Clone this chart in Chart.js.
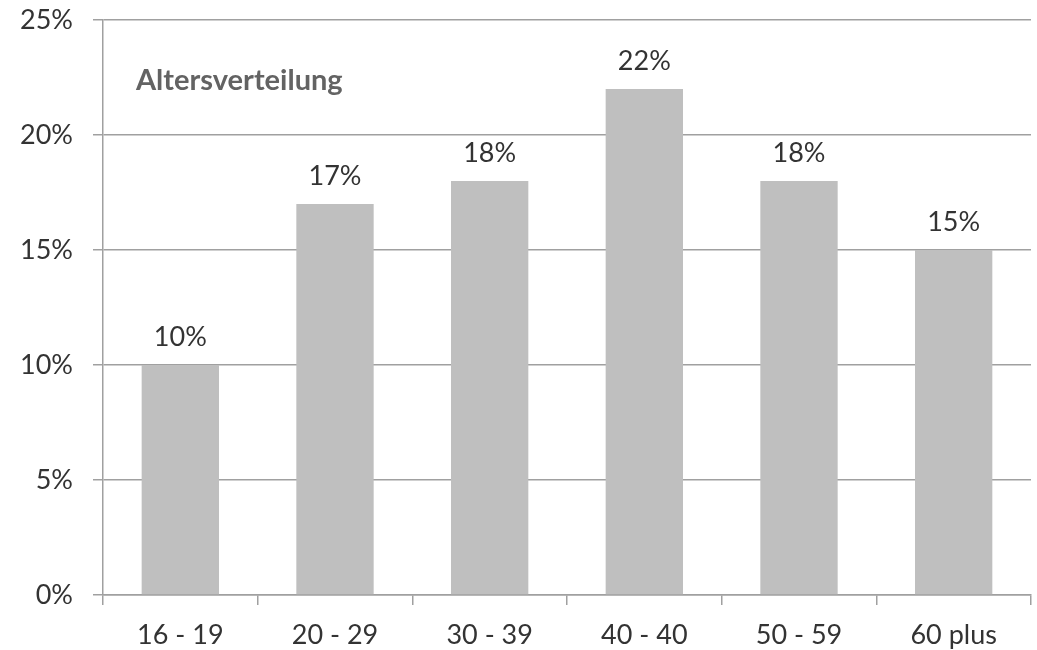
<!DOCTYPE html>
<html>
<head>
<meta charset="utf-8">
<script src="https://cdn.jsdelivr.net/npm/chart.js@4/dist/chart.umd.min.js"></script>
<style>
  html, body { margin: 0; padding: 0; background: #ffffff; }
  #wrap { width: 1037px; height: 650px; }
</style>
</head>
<body>
<div id="wrap"><canvas id="chart" width="1037" height="650"></canvas></div>
<script>
// Age groups and their share of respondents (percent)
const categories = ['16 - 19', '20 - 29', '30 - 39', '40 - 40', '50 - 59', '60 plus'];
const shares = [10, 17, 18, 22, 18, 15];
const yTicks = [0, 5, 10, 15, 20, 25];
const chartTitle = 'Altersverteilung';

const FONT = 'Lato, "Open Sans", sans-serif';

// Value labels above each bar, plus the title inside the plot area
const labelPlugin = {
  id: 'barLabels',
  afterDatasetsDraw(chart) {
    const ctx = chart.ctx;
    const meta = chart.getDatasetMeta(0);
    ctx.save();
    ctx.font = '27px ' + FONT;
    ctx.fillStyle = '#333333';
    ctx.textAlign = 'center';
    ctx.textBaseline = 'alphabetic';
    meta.data.forEach((bar, i) => {
      ctx.fillText(shares[i] + '%', bar.x, bar.y - 19);
    });
    ctx.font = 'bold 29px ' + FONT;
    ctx.fillStyle = '#636363';
    ctx.textAlign = 'left';
    ctx.textBaseline = 'middle';
    ctx.fillText(chartTitle, chart.chartArea.left + 33, 81);
    ctx.restore();
  }
};

new Chart(document.getElementById('chart'), {
  type: 'bar',
  data: {
    labels: categories,
    datasets: [{
      data: shares,
      backgroundColor: '#bfbfbf',
      borderWidth: 0,
      categoryPercentage: 1.0,
      barPercentage: 0.5
    }]
  },
  options: {
    responsive: false,
    animation: false,
    layout: { padding: { top: 20, right: 6, left: 0, bottom: 0 } },
    plugins: {
      legend: { display: false },
      tooltip: { enabled: false }
    },
    scales: {
      x: {
        offset: true,
        grid: {
          display: true,
          drawOnChartArea: false,
          drawTicks: true,
          tickLength: 10,
          color: '#a0a0a0',
          lineWidth: 1.5,
          offset: true
        },
        border: { display: true, color: '#a0a0a0', width: 1.5 },
        ticks: {
          color: '#333333',
          font: { family: FONT, size: 27 },
          padding: 14,
          maxRotation: 0
        },
        afterFit(scale) {
          scale.height = 55;
          scale.paddingLeft = 0;
          scale.paddingRight = 0;
        }
      },
      y: {
        min: 0,
        max: 25,
        afterBuildTicks(scale) { scale.ticks = yTicks.map(v => ({ value: v })); },
        grid: {
          color: '#a0a0a0',
          lineWidth: 1.5,
          drawTicks: true,
          tickLength: 10
        },
        border: { display: true, color: '#a0a0a0', width: 1.5 },
        ticks: {
          color: '#333333',
          font: { family: FONT, size: 27 },
          padding: 20,
          callback: v => v + '%'
        },
        afterFit(scale) {
          scale.width = 103;
          scale.paddingTop = 0;
          scale.paddingBottom = 0;
        }
      }
    }
  },
  plugins: [labelPlugin]
});
</script>
</body>
</html>
